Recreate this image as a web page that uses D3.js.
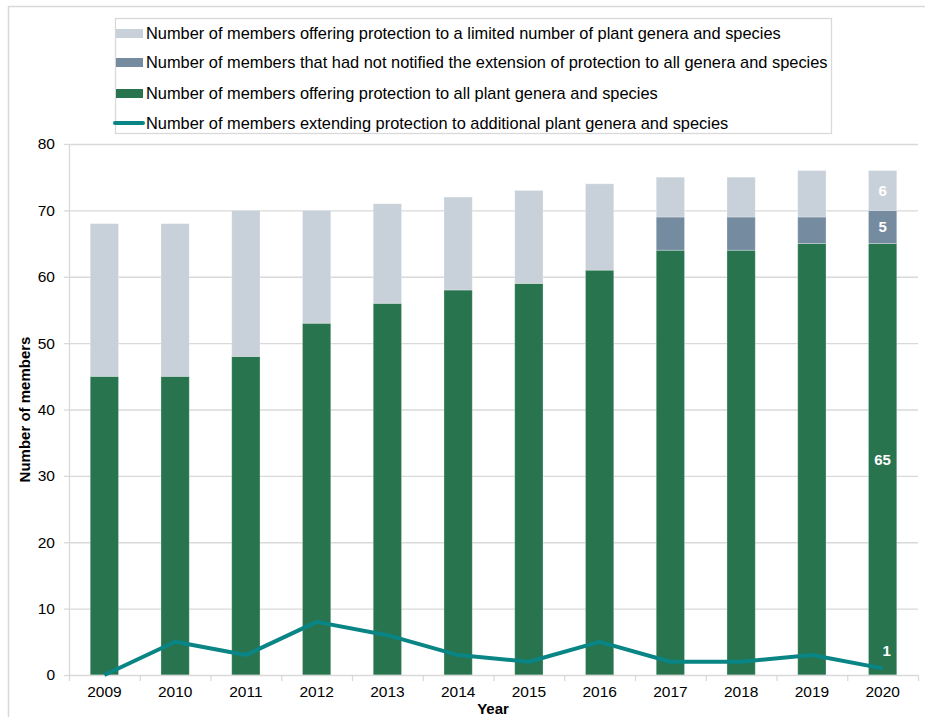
<!DOCTYPE html>
<html><head><meta charset="utf-8">
<script src="https://cdn.jsdelivr.net/npm/d3@7"></script>
<style>body{margin:0;background:#fff;font-family:"Liberation Sans",Arial,sans-serif;}</style>
</head><body><svg id="c" width="925" height="717"></svg>
<script>
const years = ["2009","2010","2011","2012","2013","2014","2015","2016","2017","2018","2019","2020"];
const allProtection = [45,45,48,53,56,58,59,61,64,64,65,65];
const notNotified = [0,0,0,0,0,0,0,0,5,5,4,5];
const limitedProtection = [23,23,22,17,15,14,14,13,6,6,7,6];
const extending = [0,5,3,8,6,3,2,5,2,2,3,1];
const yTicks = [0,10,20,30,40,50,60,70,80];
const seriesNames = [
  "Number of members offering protection to a limited number of plant genera and species",
  "Number of members that had not notified the extension of protection to all genera and species",
  "Number of members offering protection to all plant genera and species",
  "Number of members extending protection to additional plant genera and species"
];
const colors = {limited:"#C8D0D9", notif:"#758BA0", all:"#27744F", line:"#0A8585"};

const svg = d3.select("#c");
const m = {l:69, r:918, t:144, b:675};
const x = d3.scaleBand().domain(years).range([m.l, m.r]).paddingInner(0.6).paddingOuter(0.3);
const xb = d3.scaleBand().domain(years).range([m.l, m.r]);
const y = d3.scaleLinear().domain([0,80]).range([m.b, m.t]);

// outer border
svg.append("rect").attr("x",8.5).attr("y",6.5).attr("width",940).attr("height",740)
  .attr("fill","none").attr("stroke","#D9D9D9").attr("stroke-width",1.5);

// gridlines
svg.append("g").selectAll("line").data(yTicks.slice(1)).join("line")
  .attr("x1",m.l).attr("x2",m.r).attr("y1",d=>y(d)+0.5).attr("y2",d=>y(d)+0.5)
  .attr("stroke","#D9D9D9").attr("stroke-width",1.3);

// stacked data
const rows = years.map((yr,i)=>({year:yr, all:allProtection[i], notif:notNotified[i], limited:limitedProtection[i]}));
const stack = d3.stack().keys(["all","notif","limited"])(rows);
svg.append("g").selectAll("g").data(stack).join("g")
  .attr("fill",d=>colors[d.key])
  .selectAll("rect").data(d=>d).join("rect")
  .attr("x",d=>x(d.data.year)).attr("width",x.bandwidth())
  .attr("y",d=>y(d[1])).attr("height",d=>y(d[0])-y(d[1]))
  .attr("stroke","rgba(255,255,255,0.35)").attr("stroke-width",0.8);

// axes
const yAxis = d3.axisLeft(y).tickValues(yTicks).tickSize(0).tickPadding(14);
const gy = svg.append("g").attr("transform",`translate(${m.l},0)`).call(yAxis);
gy.select(".domain").attr("stroke","#D9D9D9").attr("stroke-width",1.3)
  .attr("d",`M0.5,${m.t}V${m.b}`);
gy.selectAll("text").attr("font-size",15.5).attr("fill","#000").attr("font-family","Liberation Sans, Arial");
// left tick stubs
svg.append("g").selectAll("line").data(yTicks).join("line")
  .attr("x1",m.l-5).attr("x2",m.l).attr("y1",d=>y(d)+0.5).attr("y2",d=>y(d)+0.5)
  .attr("stroke","#D9D9D9").attr("stroke-width",1.3);

const gx = svg.append("g").attr("transform",`translate(0,${m.b})`)
  .call(d3.axisBottom(xb).tickSize(0).tickPadding(11));
gx.select(".domain").attr("stroke","#D9D9D9").attr("stroke-width",1.3);
gx.selectAll("text").attr("font-size",15.5).attr("fill","#000").attr("font-family","Liberation Sans, Arial");
// boundary ticks
svg.append("g").selectAll("line").data(d3.range(years.length+1)).join("line")
  .attr("x1",i=>m.l+i*xb.step()+0.5).attr("x2",i=>m.l+i*xb.step()+0.5)
  .attr("y1",m.b).attr("y2",m.b+6).attr("stroke","#D9D9D9").attr("stroke-width",1.3);

// line
const line = d3.line().x((d,i)=>x(years[i])+x.bandwidth()/2).y(d=>y(d));
svg.append("path").datum(extending).attr("d",line).attr("fill","none")
  .attr("stroke",colors.line).attr("stroke-width",4).attr("stroke-linejoin","round");

// data labels for 2020
const li = years.length-1, lx = x(years[li])+x.bandwidth()/2;
const lbl = (txt,v)=>svg.append("text").attr("x",lx).attr("y",y(v)).attr("dy","0.35em")
  .attr("text-anchor","middle").attr("fill","#fff").attr("font-weight","bold").attr("font-size",15).text(txt);
lbl(limitedProtection[li], allProtection[li]+notNotified[li]+limitedProtection[li]/2);
lbl(notNotified[li], allProtection[li]+notNotified[li]/2);
lbl(allProtection[li], allProtection[li]/2);
svg.append("text").attr("x",lx+4).attr("y",y(extending[li])-18).attr("dy","0.35em")
  .attr("text-anchor","middle").attr("fill","#fff").attr("font-weight","bold").attr("font-size",15).text(extending[li]);

// axis titles
svg.append("text").attr("transform",`translate(30,${(m.t+m.b)/2}) rotate(-90)`)
  .attr("text-anchor","middle").attr("font-weight","bold").attr("font-size",15).text("Number of members");
svg.append("text").attr("x",493).attr("y",714).attr("text-anchor","middle")
  .attr("font-weight","bold").attr("font-size",15).text("Year");

// legend
const lg = svg.append("g");
lg.append("rect").attr("x",115.5).attr("y",18.5).attr("width",716).attr("height",115)
  .attr("fill","#fff").attr("stroke","#D9D9D9").attr("stroke-width",1.3);
const legY = [33,62,93,123];
const legCol = [colors.limited, colors.notif, colors.all];
seriesNames.forEach((n,i)=>{
  if(i<3){
    lg.append("rect").attr("x",116).attr("y",legY[i]-4).attr("width",27).attr("height",9).attr("fill",legCol[i]);
  } else {
    lg.append("line").attr("x1",115).attr("x2",143).attr("y1",legY[i]).attr("y2",legY[i])
      .attr("stroke",colors.line).attr("stroke-width",4).attr("stroke-linecap","round");
  }
  lg.append("text").attr("x",146).attr("y",legY[i]).attr("dy","0.35em").attr("font-size",16.4).text(n);
});
</script></body></html>
